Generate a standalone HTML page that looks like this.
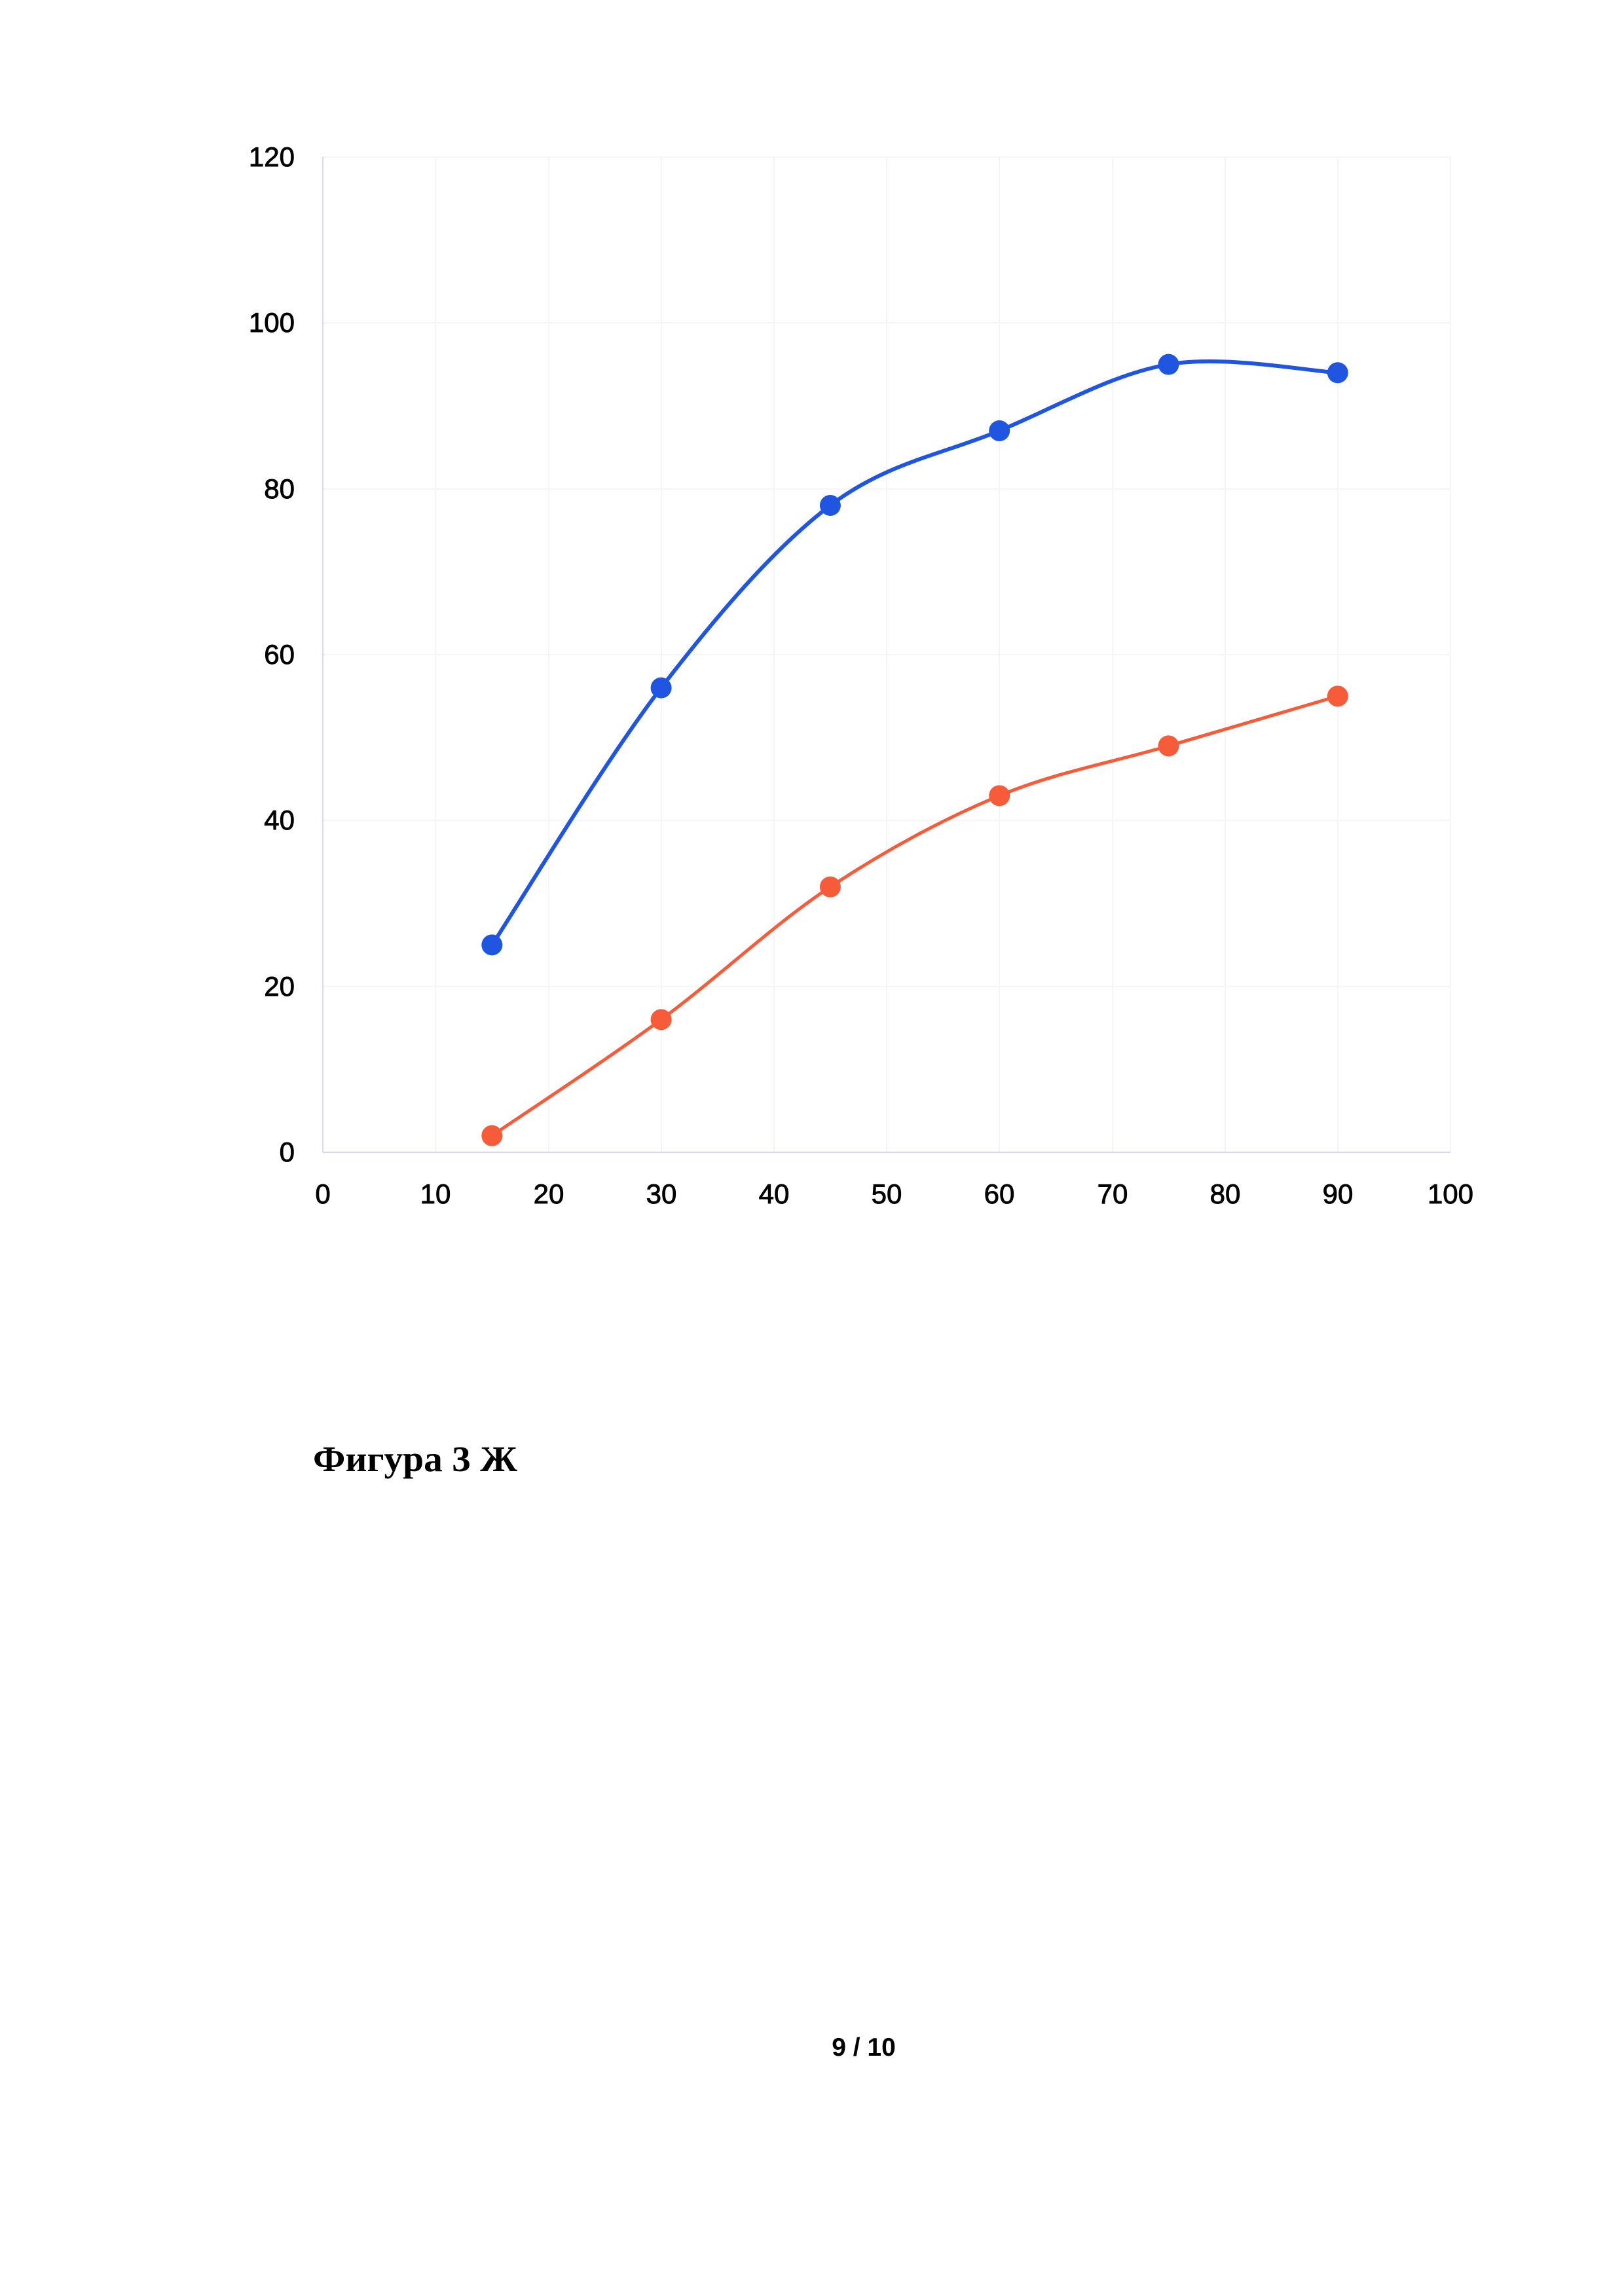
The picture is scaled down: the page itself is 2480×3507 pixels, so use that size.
<!DOCTYPE html>
<html><head><meta charset="utf-8"><style>
html,body{margin:0;padding:0;background:#fff;}
body{width:2480px;height:3507px;position:relative;overflow:hidden;}
svg{position:absolute;left:0;top:0;}
</style></head><body>
<svg width="2480" height="3507" viewBox="0 0 2480 3507" xmlns="http://www.w3.org/2000/svg">
<g stroke="#f5f4fa" stroke-width="2" fill="none">
<line x1="493" y1="240" x2="2215" y2="240"/>
<line x1="493" y1="493" x2="2215" y2="493"/>
<line x1="493" y1="747" x2="2215" y2="747"/>
<line x1="493" y1="1000" x2="2215" y2="1000"/>
<line x1="493" y1="1253" x2="2215" y2="1253"/>
<line x1="493" y1="1507" x2="2215" y2="1507"/>
<line x1="665" y1="240" x2="665" y2="1760"/>
<line x1="838" y1="240" x2="838" y2="1760"/>
<line x1="1010" y1="240" x2="1010" y2="1760"/>
<line x1="1182" y1="240" x2="1182" y2="1760"/>
<line x1="1354" y1="240" x2="1354" y2="1760"/>
<line x1="1526" y1="240" x2="1526" y2="1760"/>
<line x1="1699" y1="240" x2="1699" y2="1760"/>
<line x1="1871" y1="240" x2="1871" y2="1760"/>
<line x1="2043" y1="240" x2="2043" y2="1760"/>
<line x1="2215" y1="240" x2="2215" y2="1760"/>
</g>
<g stroke="#dcd6ee" stroke-width="2">
<line x1="493" y1="240" x2="493" y2="1760"/>
<line x1="493" y1="1760" x2="2215" y2="1760"/>
</g>
<g font-family="Liberation Sans, sans-serif" font-size="42" fill="#000" stroke="#000" stroke-width="0.9" text-anchor="end">
<text x="450" y="254">120</text>
<text x="450" y="507">100</text>
<text x="450" y="761">80</text>
<text x="450" y="1014">60</text>
<text x="450" y="1267">40</text>
<text x="450" y="1521">20</text>
<text x="450" y="1774">0</text>
</g>
<g font-family="Liberation Sans, sans-serif" font-size="42" fill="#000" stroke="#000" stroke-width="0.9" text-anchor="middle">
<text x="493" y="1838">0</text>
<text x="665" y="1838">10</text>
<text x="838" y="1838">20</text>
<text x="1010" y="1838">30</text>
<text x="1182" y="1838">40</text>
<text x="1354" y="1838">50</text>
<text x="1526" y="1838">60</text>
<text x="1699" y="1838">70</text>
<text x="1871" y="1838">80</text>
<text x="2043" y="1838">90</text>
<text x="2215" y="1838">100</text>
</g>
<path id="pb" fill="none" stroke="#1f55e0" stroke-width="6"/>
<path id="po" fill="none" stroke="#f65c3a" stroke-width="5"/>
<g id="mb" fill="#1f55e0"></g>
<g id="mo" fill="#f65c3a"></g>
<text x="478" y="2247" font-family="Liberation Serif, serif" font-weight="bold" font-size="55" fill="#000" textLength="312" lengthAdjust="spacingAndGlyphs">Фигура 3 Ж</text>
<text x="1319" y="3140" text-anchor="middle" font-family="Liberation Sans, sans-serif" font-weight="bold" font-size="39" fill="#000">9 / 10</text>
</svg>
<script>
function X(v){return 493+17.22*v;}function Y(v){return 1760-12.667*v;}
var xs=[15,30,45,60,75,90];
function build(vals,pid,gid,r){
 var p=xs.map(function(x,i){return [X(x),Y(vals[i])];});
 var d="M"+p[0][0]+","+p[0][1];
 for(var i=0;i<p.length-1;i++){
  var p0=p[i>0?i-1:i],p1=p[i],p2=p[i+1],p3=p[i+2<p.length?i+2:i+1];
  var c1=[p1[0]+(p2[0]-p0[0])/6,p1[1]+(p2[1]-p0[1])/6];
  var c2=[p2[0]-(p3[0]-p1[0])/6,p2[1]-(p3[1]-p1[1])/6];
  d+=" C"+c1+" "+c2+" "+p2;
 }
 document.getElementById(pid).setAttribute("d",d);
 var g=document.getElementById(gid);
 p.forEach(function(q){var c=document.createElementNS("http://www.w3.org/2000/svg","circle");c.setAttribute("cx",q[0]);c.setAttribute("cy",q[1]);c.setAttribute("r",r);g.appendChild(c);});
}
build([25,56,78,87,95,94],"pb","mb",16);
build([2,16,32,43,49,55],"po","mo",16);
</script>
</body></html>
